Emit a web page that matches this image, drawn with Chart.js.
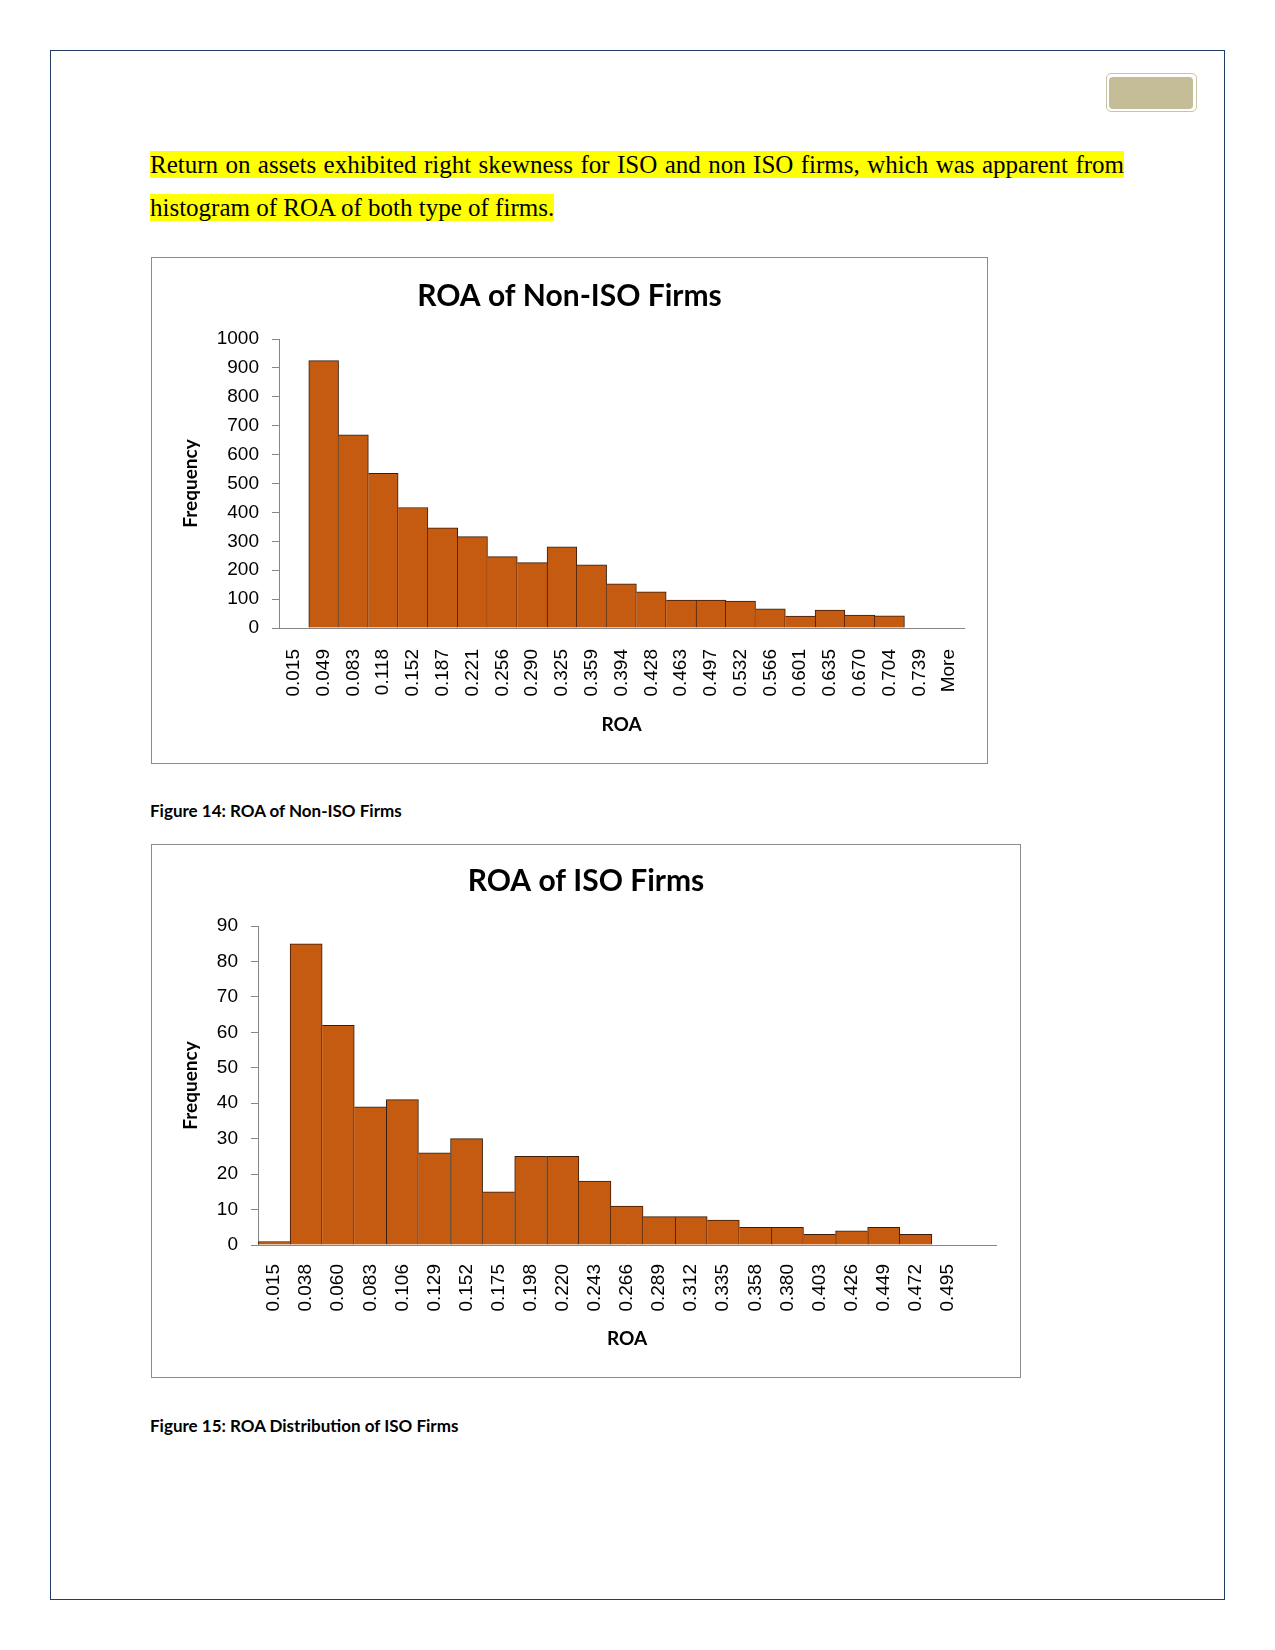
<!DOCTYPE html>
<html>
<head>
<meta charset="utf-8">
<script src="https://cdn.jsdelivr.net/npm/chart.js@4.4.1/dist/chart.umd.min.js"></script>
<style>
    body { margin: 0; background: #fff; }
    .page { position: relative; width: 1275px; height: 1650px; background: #fff; }
    .page-border { position: absolute; left: 50px; top: 50px; width: 1173px; height: 1548px; border: 1px solid #203d63; }
    .tag-outer { position: absolute; left: 1106px; top: 73px; width: 89px; height: 37px; border: 1px solid #c9c4a6; border-radius: 5px; }
    .tag-inner { position: absolute; left: 1109px; top: 77px; width: 84px; height: 32px; background: #c4bd97; border-radius: 4px; }
    .intro { position: absolute; left: 150px; top: 143px; width: 974px; margin: 0; font: 25px 'Liberation Serif', 'Times New Roman', serif; line-height: 43px; text-align: justify; color: #000; }
    .intro span { background: #ffff00; }
    .chart-box { position: absolute; border: 1px solid #8c8c8c; background: #fff; }
    .chart-box canvas { position: absolute; left: 0; top: 0; }
    .caption { position: absolute; left: 150px; font: bold 17px Lato, sans-serif; line-height: 20px; color: #000; }
</style>
</head>
<body>
<div class="page">
    <div class="page-border"></div>
    <div class="tag-outer"></div>
    <div class="tag-inner"></div>

    <p class="intro"><span>Return on assets exhibited right skewness for ISO and non ISO firms, which was apparent from histogram of ROA of both type of firms.</span></p>

    <div class="chart-box" style="left:151px; top:257px; width:835px; height:505px;">
        <canvas id="nonIsoChart" width="835" height="505"></canvas>
    </div>
    <div class="caption" style="top:801px;">Figure 14: ROA of Non-ISO Firms</div>

    <div class="chart-box" style="left:151px; top:844px; width:868px; height:532px;">
        <canvas id="isoChart" width="868" height="532"></canvas>
    </div>
    <div class="caption" style="top:1416px;">Figure 15: ROA Distribution of ISO Firms</div>
</div>

<script>
// Histogram bins and frequencies
const nonIsoBins = ['0.015', '0.049', '0.083', '0.118', '0.152', '0.187', '0.221', '0.256', '0.290', '0.325', '0.359', '0.394', '0.428', '0.463', '0.497', '0.532', '0.566', '0.601', '0.635', '0.670', '0.704', '0.739', 'More'];
const nonIsoFreq = [0, 925, 668, 535, 417, 347, 316, 247, 226, 281, 219, 153, 125, 97, 97, 93, 66, 41, 62, 45, 42, 0, 0];
const nonIsoTicks = { max: 1000, step: 100 };

const isoBins = ['0.015', '0.038', '0.060', '0.083', '0.106', '0.129', '0.152', '0.175', '0.198', '0.220', '0.243', '0.266', '0.289', '0.312', '0.335', '0.358', '0.380', '0.403', '0.426', '0.449', '0.472', '0.495', ''];
const isoFreq = [1, 85, 62, 39, 41, 26, 30, 15, 25, 25, 18, 11, 8, 8, 7, 5, 5, 3, 4, 5, 3, 0, 0];
const isoTicks = { max: 90, step: 10 };

const BAR_FILL = '#c55a11';
const BAR_EDGE = '#3a1c08';
const AXIS_GRAY = '#868686';
const TICK_FONT = { family: 'Liberation Sans', size: 19 };
const AXIS_TITLE_FONT = { family: 'Lato', weight: 'bold', size: 19, lineHeight: 1.2 };

// each boundary between two bars gets drawn once, by the taller bar
function barBorder(values) {
    return (ctx) => {
        const i = ctx.dataIndex;
        const v = values[i];
        if (v === 0) return 0;
        const prev = i > 0 ? values[i - 1] : 0;
        const next = i < values.length - 1 ? values[i + 1] : 0;
        return { top: 1, bottom: 0, left: prev <= v ? 1 : 0, right: next < v ? 1 : 0 };
    };
}

function makeHistogram(canvasId, title, bins, freq, ticks, box) {
    const ctx = document.getElementById(canvasId).getContext('2d');
    return new Chart(ctx, {
        type: 'bar',
        data: {
            labels: bins,
            datasets: [{
                data: freq,
                // empty bins would otherwise leave a sliver on the axis
                backgroundColor: (c) => freq[c.dataIndex] === 0 ? 'rgba(0,0,0,0)' : BAR_FILL,
                borderColor: BAR_EDGE,
                borderWidth: barBorder(freq),
                borderSkipped: false,
                barPercentage: 1,
                categoryPercentage: 1
            }]
        },
        options: {
            responsive: false,
            animation: false,
            devicePixelRatio: 1,
            layout: { padding: 0 },
            plugins: {
                legend: { display: false },
                tooltip: { enabled: false },
                title: {
                    display: true,
                    text: title,
                    color: '#000',
                    font: { family: 'Lato', weight: 'bold', size: 30, lineHeight: 1.2 },
                    padding: { top: box.titleTop, bottom: box.titleBottom }
                }
            },
            scales: {
                x: {
                    afterFit: (scale) => {
                        scale.height = box.xHeight;
                        scale.paddingLeft = 0;
                        scale.paddingRight = 0;
                    },
                    grid: { display: false, drawTicks: false },
                    border: { display: true, color: AXIS_GRAY, width: 1 },
                    ticks: {
                        autoSkip: false,
                        maxRotation: 90,
                        minRotation: 90,
                        padding: box.xPad,
                        color: '#000',
                        font: TICK_FONT
                    },
                    title: {
                        display: true,
                        text: 'ROA',
                        color: '#000',
                        font: AXIS_TITLE_FONT,
                        padding: { top: 0, bottom: 27 }
                    }
                },
                y: {
                    min: 0,
                    max: ticks.max,
                    afterFit: (scale) => { scale.width = box.yWidth; },
                    grid: { drawOnChartArea: false, drawTicks: true, tickLength: 7, color: AXIS_GRAY },
                    border: { display: true, color: AXIS_GRAY, width: 1 },
                    ticks: {
                        stepSize: ticks.step,
                        padding: 13,
                        color: '#000',
                        font: TICK_FONT,
                        callback: (value) => String(value)
                    },
                    title: {
                        display: true,
                        text: 'Frequency',
                        color: '#000',
                        font: AXIS_TITLE_FONT,
                        padding: { top: 27, bottom: 0 }
                    }
                },
                // empty strip on the right so the title stays centred on the whole box
                spacer: {
                    type: 'linear',
                    position: 'right',
                    afterFit: (scale) => { scale.width = box.right; },
                    grid: { display: false, drawTicks: false },
                    border: { display: false },
                    ticks: { display: false }
                }
            }
        }
    });
}

makeHistogram('nonIsoChart', 'ROA of Non-ISO Firms', nonIsoBins, nonIsoFreq, nonIsoTicks,
    { right: 23, titleTop: 20, titleBottom: 25, xHeight: 135, yWidth: 127, xPad: 21 });

makeHistogram('isoChart', 'ROA of ISO Firms', isoBins, isoFreq, isoTicks,
    { right: 24, titleTop: 18, titleBottom: 27, xHeight: 132, yWidth: 106, xPad: 19 });
</script>
</body>
</html>
